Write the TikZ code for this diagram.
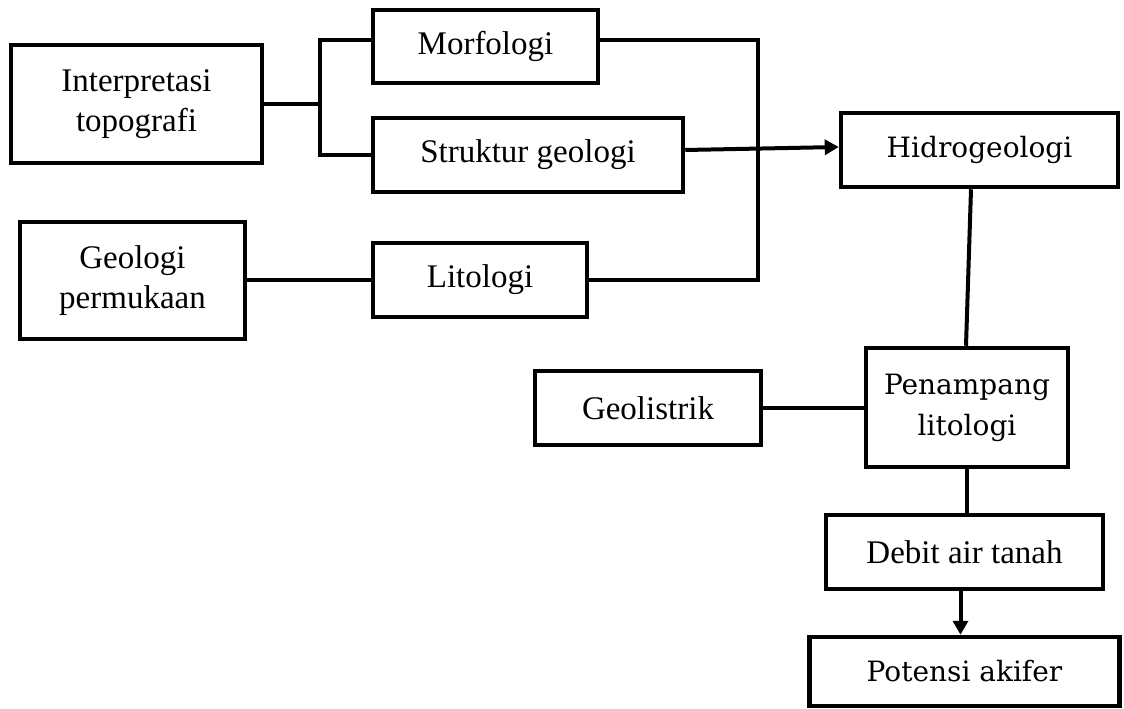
\documentclass[tikz,border=0pt]{standalone}
\usepackage{fontspec}
\setmainfont{Liberation Serif}
\newfontfamily\camfont{DejaVu Serif}
\usetikzlibrary{arrows.meta}
\begin{document}
\begin{tikzpicture}[x=1pt,y=-1pt,
  box/.style={draw, line width=4.5pt, rectangle, inner sep=0pt, align=center,
              font=\fontsize{33}{40}\selectfont},
  cbox/.style={box, font=\camfont\fontsize{28}{41}\selectfont},
  conn/.style={line width=4pt},
  arr/.style={conn, -{Triangle[length=14pt,width=15pt]}}]
\useasboundingbox (0,0) rectangle (1124,709);
% nodes
\node[box, minimum width=251pt, minimum height=118pt] (interp) at (136.5,104) {Interpretasi\\topografi};
\node[box, minimum width=225pt, minimum height=73pt] (morf) at (485.5,46.5) {Morfologi};
\node[box, minimum width=310pt, minimum height=74pt] (strk) at (528,155) {Struktur geologi};
\node[box, minimum width=225pt, minimum height=117pt] (geol) at (132.5,280.5) {Geologi\\permukaan};
\node[box, minimum width=214pt, minimum height=74pt] (lito) at (480,280) {Litologi};
\node[cbox, minimum width=277pt, minimum height=74pt] (hidro) at (979.5,150) {Hidrogeologi};
\node[box, minimum width=226pt, minimum height=74pt] (geolis) at (648,408) {Geolistrik};
\node[cbox, minimum width=202pt, minimum height=119pt] (penamp) at (967,407.5) {Penampang\\litologi};
\node[box, minimum width=277pt, minimum height=74pt] (debit) at (964.5,552) {Debit air tanah};
\node[cbox, minimum width=310pt, minimum height=69pt] (potensi) at (964.5,671.5) {Potensi akifer};
% helper coordinates
\coordinate (bx) at (320,0);
\coordinate (rx) at (758,0);
% connectors
\draw[conn] (interp.east) -- (interp.east -| bx);
\draw[conn] ([yshift=6.5pt]morf.west) -| (strk.west -| bx) -- (strk.west);
\draw[conn] ([yshift=6.5pt]morf.east) -| (lito.east -| rx) -- (lito.east);
\draw[conn] (lito.west -| geol.east) -- (lito.west);
\draw[arr] ([yshift=5pt]strk.east) -- ([yshift=3pt]hidro.west);
\draw[conn] ([xshift=-8.5pt]hidro.south) -- ([xshift=-1pt]penamp.north);
\draw[conn] (geolis.east) -- (geolis.east -| penamp.west);
\draw[conn] (penamp.south) -- (penamp.south |- debit.north);
\draw[arr] ([xshift=-4pt]debit.south) -- ([xshift=-4pt]potensi.north);
\end{tikzpicture}
\end{document}
